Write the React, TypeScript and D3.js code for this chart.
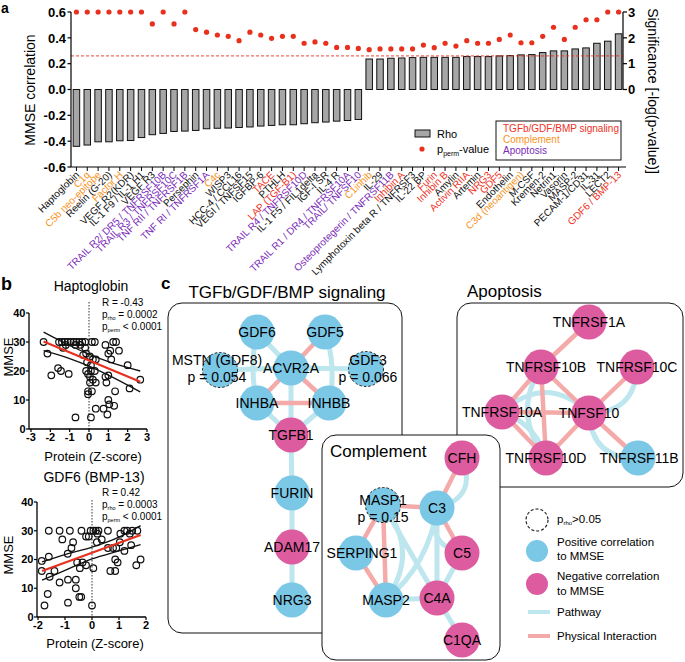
import React from "react";
import * as d3 from "d3";

const FONT = "'Liberation Sans', Arial, Helvetica, sans-serif";

// ---------------- Panel a data ----------------
const categories = [
  "Haptoglobin", "C1q", "C5b neo-epitope", "Reelin (G-20)", "Factor H", "VEGF R2(KDR)", "IL-1 F9 / IL-1 H1", "VEGF R3",
  "TRAIL R2/ DR5 / TNFRSF10B", "TRAIL R3 / TNFRSF10C", "TNF RII / TNFRSF1B", "Persephin", "TNF RI / TNFRSF1A", "C4c",
  "WISP3", "HCC-4 / CCL16", "VEGI / TNFSF15", "IGFBP-6", "TACE", "PTHLH", "LAP (TGF-B1)", "TRAIL R4 / TNFRSF10D",
  "IL-1 F5 / FIL1delta", "IGF-I SR", "IL-4 R", "TRAIL R1 / DR4 / TNFRSF10A", "TRAIL/ TNFSF10", "C1inhib", "IL-29",
  "Osteoprotegerin / TNFRSF11B", "Inhibin A", "Lymphotoxin beta R / TNFRSF3", "IL-22 BP", "Furin", "Inhibin B", "Amylin",
  "Activin RIIA", "Artemin", "NRG3", "GDF5", "Endothelin", "C3d (neoantigen)", "M-CSF", "Kremen-2", "Netrin1", "Vasorin",
  "MASP-2", "PECAM-1/CD31", "IL-31", "LECT2", "GDF6 / BMP-13",
];
// "" = other, T = TGFb/GDF/BMP, C = Complement, A = Apoptosis
const categoryGroup = [
  "", "C", "C", "", "C", "", "", "",
  "A", "A", "A", "", "A", "C",
  "", "", "", "", "T", "", "T", "A",
  "", "", "", "A", "A", "C", "",
  "A", "T", "", "", "T", "T", "",
  "T", "", "T", "T", "", "C", "", "", "", "",
  "", "", "", "", "T",
];
const rhoValues = [
  -0.44, -0.43, -0.405, -0.405, -0.397, -0.395, -0.372, -0.35, -0.34, -0.325, -0.322, -0.317, -0.304, -0.3,
  -0.298, -0.294, -0.29, -0.283, -0.278, -0.273, -0.273, -0.265, -0.257, -0.252, -0.245, -0.24, -0.232,
  0.236, 0.236, 0.242, 0.244, 0.247, 0.249, 0.249, 0.249, 0.249, 0.255, 0.255, 0.255, 0.26, 0.262, 0.268, 0.27,
  0.286, 0.299, 0.299, 0.314, 0.322, 0.358, 0.374, 0.431,
];
const sigValues = [
  3, 3, 3, 3, 3, 3, 3, 2.54, 3, 2.54,
  3, 2.32, 2.22, 2.11, 2.06, 1.89, 2.22, 2.11, 1.98, 2.06,
  2.06, 1.79, 1.84, 1.79, 1.63, 1.63, 1.59, 1.54, 1.57, 1.57,
  1.57, 1.57, 1.72, 1.62, 1.79, 1.68, 1.89, 1.79, 1.79, 1.94,
  2.11, 1.81, 1.81, 2.06, 2.41, 1.94, 2.41, 2.7, 2.7, 3,
  3,
];
const sigThreshold = 1.3;
const leftTicks = [0.6, 0.4, 0.2, 0.0, -0.2, -0.4, -0.6];
const rightTicks = [0, 1, 2, 3];
const groupNames = ["TGFb/GDF/BMP signaling", "Complement", "Apoptosis"];
const groupKeys = ["T", "C", "A"];

const COLORS: Record<string, string> = { "": "#111111", T: "#EE3124", C: "#F7941D", A: "#7A2BB8" };
const RED = "#E8301F";

// ---------------- Panel b data ----------------
const hapPoints: [number, number][] = [
  [-2.35, 30], [-2.15, 26], [-1.95, 18.5], [-1.6, 21], [-1.45, 20], [-1.05, 19],
  [-1.55, 30], [-1.4, 30], [-1.25, 30], [-1.1, 30], [-0.95, 30], [-0.8, 30], [-0.65, 30], [-0.5, 30], [-0.35, 30], [-0.2, 30], [0.15, 30], [0.3, 30],
  [-1.35, 28], [-1.2, 29], [-0.7, 29], [-0.45, 29], [-0.2, 28],
  [-0.15, 26], [-0.3, 25.5], [0.05, 25], [0.2, 24], [0.35, 24], [-0.1, 23], [0.1, 22],
  [-0.15, 20], [0.1, 20], [0.3, 20], [-0.05, 19], [0.05, 18], [0.2, 17], [0.35, 16], [0.05, 16], [-0.05, 13], [0.15, 13], [-0.05, 12], [0.35, 7], [-0.7, 4], [0.1, 4],
  [0.85, 29], [1.0, 26], [1.1, 27], [1.25, 30], [1.4, 30], [1.55, 27], [1.15, 24], [0.85, 18], [1.0, 18.5], [0.9, 16], [1.0, 10], [1.05, 8.5], [1.3, 8], [0.75, 7], [0.95, 5], [1.35, 13], [2.0, 22], [2.1, 14], [2.65, 17],
];
const hapFitX = [-2.35, 2.65];
const hapFitY = [30.2, 16.3];
const hapCiX = [-2.35, -1, 0, 1, 2.65];
const hapCiUpper = [33.4, 28.8, 25.8, 23.2, 20.0];
const hapCiLower = [27.0, 24.3, 21.7, 18.6, 12.8];
const hapXTicks = [-3, -2, -1, 0, 1, 2, 3];

const gdfPoints: [number, number][] = [
  [-1.86, 19.5], [-1.86, 16], [-1.6, 21], [-1.6, 30], [-1.2, 30], [-1.1, 27], [-1.76, 4], [-1.64, 8], [-1.57, 14], [-1.39, 16], [-1.2, 12],
  [-0.9, 22], [-0.76, 24], [-0.7, 26], [-0.82, 30], [-0.89, 5], [-0.89, 13], [-0.6, 13], [-0.6, 10], [-0.47, 7], [-0.4, 7], [-0.55, 19],
  [-0.45, 17], [-0.35, 19], [-0.22, 18], [-0.39, 30], [-0.22, 28], [-0.12, 28], [-0.05, 30], [0.05, 30], [0.14, 30], [0.24, 30], [0.2, 29],
  [0, 4], [0.05, 17], [0.18, 26], [0.36, 27], [0.59, 30], [0.59, 24], [0.78, 24], [0.9, 24], [0.68, 16], [0.86, 16], [0.86, 20], [0.95, 19],
  [1.03, 26], [1.2, 23], [1.2, 30], [1.3, 30], [1.49, 30], [1.68, 30], [1.4, 29], [1.45, 25], [1.64, 18], [1.8, 20], [1.05, 29],
];
const gdfFitX = [-1.85, 1.8];
const gdfFitY = [16.0, 28.5];
const gdfCiX = [-1.85, -1, 0, 1, 1.8];
const gdfCiUpper = [19.2, 21.7, 24.3, 27.8, 31.8];
const gdfCiLower = [12.8, 16.2, 20.2, 23.0, 25.2];
const gdfXTicks = [-2, -1, 0, 1, 2];
const mmseTicks = [0, 10, 20, 30, 40];

// ---------------- Panel c data ----------------
const nodeIds = [
  "GDF6", "GDF5", "MSTN", "ACVR2A", "GDF3", "INHBA", "INHBB", "TGFB1", "FURIN", "ADAM17", "NRG3",
  "TNFRSF1A", "TNFRSF10B", "TNFRSF10C", "TNFRSF10A", "TNFSF10", "TNFRSF10D", "TNFRSF11B",
  "CFH", "C3", "MASP1", "C5", "SERPING1", "MASP2", "C4A", "C1QA",
];
const nodeCorrelation = [
  "+", "+", "+", "+", "+", "+", "+", "-", "+", "-", "+",
  "-", "-", "-", "-", "-", "-", "+",
  "-", "+", "+", "-", "+", "+", "-", "-",
];
const nodeNotSignificant = ["MSTN", "GDF3", "MASP1"];
const nodeLabelText: Record<string, string[]> = {
  MSTN: ["MSTN (GDF8)", "p = 0.054"],
  GDF3: ["GDF3", "p = 0.066"],
  MASP1: ["MASP1", "p = 0.15"],
};
// [source, target, type (P = pathway, I = physical interaction), bend]
const tgfEdges: [string, string, string, number][] = [
  ["GDF6", "ACVR2A", "P", 0], ["GDF5", "INHBB", "P", -5], ["ACVR2A", "GDF3", "P", 0], ["MSTN", "ACVR2A", "P", 0],
  ["GDF6", "INHBA", "P", 4], ["ACVR2A", "TGFB1", "P", 0], ["INHBA", "TGFB1", "P", 0], ["INHBB", "TGFB1", "P", 0],
  ["TGFB1", "FURIN", "P", 0], ["FURIN", "ADAM17", "P", 0], ["ADAM17", "NRG3", "P", 0],
  ["GDF5", "ACVR2A", "I", 0], ["ACVR2A", "INHBA", "I", 0], ["ACVR2A", "INHBB", "I", 0], ["INHBA", "INHBB", "I", 0],
];
const apoEdges: [string, string, string, number][] = [
  ["TNFRSF10C", "TNFSF10", "P", -16], ["TNFRSF10A", "TNFSF10", "P", -20], ["TNFSF10", "TNFRSF11B", "P", 16],
  ["TNFRSF10B", "TNFRSF10D", "P", 16], ["TNFRSF10A", "TNFRSF10D", "P", -8],
  ["TNFRSF1A", "TNFRSF10B", "I", 0], ["TNFRSF10B", "TNFRSF10A", "I", 0], ["TNFRSF10B", "TNFSF10", "I", 0],
  ["TNFRSF10B", "TNFRSF10D", "I", 0], ["TNFRSF10C", "TNFSF10", "I", 0], ["TNFRSF10A", "TNFSF10", "I", 0],
  ["TNFRSF10A", "TNFRSF10D", "I", 0], ["TNFSF10", "TNFRSF10D", "I", 0], ["TNFSF10", "TNFRSF11B", "I", 0],
];
const compEdges: [string, string, string, number][] = [
  ["MASP1", "C4A", "P", 0], ["MASP1", "MASP2", "P", -18], ["MASP2", "C4A", "P", 0], ["CFH", "C3", "P", -16],
  ["C3", "C4A", "P", 0], ["C3", "C5", "P", 14], ["C5", "C4A", "P", 0], ["C4A", "C1QA", "P", 0], ["MASP2", "C3", "P", 10],
  ["MASP1", "C3", "I", 0], ["MASP1", "SERPING1", "I", 0], ["MASP1", "MASP2", "I", 0], ["SERPING1", "MASP2", "I", 0],
  ["C3", "CFH", "I", 0], ["C3", "C5", "I", 0],
];

// layout of the network (pixel positions of the drawn nodes)
const nodeLayout: Record<string, [number, number]> = {
  GDF6: [257, 332], GDF5: [325, 332], MSTN: [220, 370], ACVR2A: [291, 368], GDF3: [366, 369],
  INHBA: [257, 403], INHBB: [329, 403], TGFB1: [291, 435], FURIN: [292, 493], ADAM17: [292, 547], NRG3: [292, 600],
  TNFRSF1A: [589, 322], TNFRSF10B: [541, 367], TNFRSF10C: [637, 367], TNFRSF10A: [502, 412], TNFSF10: [589, 413],
  TNFRSF10D: [546, 458], TNFRSF11B: [638, 458],
  CFH: [462, 458], C3: [437, 508], MASP1: [383, 505], C5: [462, 553], SERPING1: [356, 553], MASP2: [386, 600],
  C4A: [437, 598], C1QA: [462, 640],
};
const labelLayout: Record<string, [number, number][]> = {
  MSTN: [[217, 360], [217, 377]],
  GDF3: [[368, 360], [368, 377]],
  MASP1: [[383, 500], [383, 517]],
  SERPING1: [[362, 553]],
  TNFRSF10B: [[546, 367]],
  TNFRSF11B: [[639, 458]],
};

const BLUE = "#7BC7E6";
const PINK = "#DD5C9F";
const EDGE_BLUE = "#BDE6EE";
const EDGE_PINK = "#F4AAA9";

function PanelA() {
  const x = d3.scaleBand<string>().domain(categories).range([71, 624]).paddingInner(0.4).paddingOuter(0.2);
  const yL = d3.scaleLinear().domain([-0.6, 0.6]).range([167, 12]);
  const yR = d3.scaleLinear().domain([0, 3]).range([yL(0), 12]);
  const bw = x.bandwidth();
  const cx = (c: string) => (x(c) as number) + bw / 2;
  const y0 = yL(0);
  return (
    <g>
      <text x={1} y={13} fontSize={14} fontWeight="bold">a</text>
      {categories.map((c, i) => {
        const v = rhoValues[i];
        const y1 = yL(v);
        return (
          <rect key={c} x={x(c)} y={Math.min(y0, y1)} width={bw} height={Math.abs(y1 - y0)}
            fill="#A6A6A6" stroke="#111" strokeWidth={1} />
        );
      })}
      <line x1={71} x2={623} y1={yR(sigThreshold)} y2={yR(sigThreshold)} stroke={RED} strokeWidth={0.9} strokeDasharray="3,2" />
      {categories.map((c, i) => (
        <circle key={"d" + c} cx={cx(c)} cy={yR(sigValues[i])} r={2.6} fill={RED} />
      ))}
      {/* left axis */}
      <line x1={71} x2={71} y1={12} y2={167} stroke="#000" strokeWidth={1.2} />
      {leftTicks.map((t) => (
        <g key={"lt" + t}>
          <line x1={67.5} x2={71} y1={yL(t)} y2={yL(t)} stroke="#000" strokeWidth={1.2} />
          <text x={66} y={yL(t)} dy="0.36em" textAnchor="end" fontSize={13} fontWeight="bold">{t.toFixed(1)}</text>
        </g>
      ))}
      <text transform={`translate(35,90) rotate(-90)`} textAnchor="middle" fontSize={14}>MMSE correlation</text>
      {/* bottom axis */}
      <line x1={71} x2={626} y1={167} y2={167} stroke="#000" strokeWidth={1.2} />
      {categories.map((c, i) => (
        <g key={"xt" + c}>
          <line x1={cx(c)} x2={cx(c)} y1={167} y2={171} stroke="#000" strokeWidth={1} />
          <text transform={`translate(${cx(c) + 1},173) rotate(-45)`} dy="0.35em" textAnchor="end" fontSize={10}
            fill={COLORS[categoryGroup[i]]}>{c}</text>
        </g>
      ))}
      {/* right axis */}
      <line x1={623} x2={623} y1={12} y2={y0} stroke="#000" strokeWidth={1.2} />
      {rightTicks.map((t) => (
        <g key={"rt" + t}>
          <line x1={623} x2={627} y1={yR(t)} y2={yR(t)} stroke="#000" strokeWidth={1.2} />
          <text x={628} y={yR(t)} dy="0.36em" fontSize={13} fontWeight="bold">{t}</text>
        </g>
      ))}
      <text transform={`translate(648,91) rotate(90)`} textAnchor="middle" fontSize={14}>Significance [-log(p-value)]</text>
      {/* legend */}
      <rect x={415} y={130} width={15} height={7} fill="#A6A6A6" stroke="#111" strokeWidth={1} />
      <text x={437} y={138} fontSize={11}>Rho</text>
      <circle cx={422} cy={149} r={2.6} fill={RED} />
      <text x={437} y={153} fontSize={11}>
        <tspan>p</tspan>
        <tspan fontSize={7} dy={2.5}>perm</tspan>
        <tspan dy={-2.5}>-value</tspan>
      </text>
      <rect x={496} y={121} width={125} height={39} fill="#fff" stroke="#111" strokeWidth={1} />
      {groupNames.map((g, i) => (
        <text key={g} x={503} y={132 + i * 11} fontSize={10} fill={COLORS[groupKeys[i]]}>{g}</text>
      ))}
    </g>
  );
}

type ScatterProps = {
  title: string;
  stats: [string, string, string];
  points: [number, number][];
  xDomain: [number, number];
  xRange: [number, number];
  yRange: [number, number];
  axisX: number;
  xTicks: number[];
  fitX: number[];
  fitY: number[];
  ciX: number[];
  ciUp: number[];
  ciLo: number[];
  titleY: number;
  statY: number;
  xLabelX: number;
  xLabelY: number;
  yLabelY: number;
  zeroTop: number;
};

function Scatter(p: ScatterProps) {
  const x = d3.scaleLinear().domain(p.xDomain).range(p.xRange);
  const y = d3.scaleLinear().domain([0, 40]).range(p.yRange);
  const line = d3.line<[number, number]>().x((d) => x(d[0])).y((d) => y(d[1])).curve(d3.curveMonotoneX);
  const up = p.ciX.map((v, i) => [v, p.ciUp[i]] as [number, number]);
  const lo = p.ciX.map((v, i) => [v, p.ciLo[i]] as [number, number]);
  const fit = p.fitX.map((v, i) => [v, p.fitY[i]] as [number, number]);
  const yb = p.yRange[0];
  const xEnd = p.xRange[1];
  return (
    <g>
      <text x={(p.xRange[0] + p.xRange[1]) / 2 + 2} y={p.titleY} textAnchor="middle" fontSize={14}>{p.title}</text>
      <text x={102} y={p.statY} fontSize={10}>{p.stats[0]}</text>
      <text x={102} y={p.statY + 12} fontSize={10}>
        <tspan>p</tspan><tspan fontSize={5.5} dy={2}>rho</tspan><tspan dy={-2}>{" " + p.stats[1]}</tspan>
      </text>
      <text x={102} y={p.statY + 24} fontSize={10}>
        <tspan>p</tspan><tspan fontSize={5.5} dy={2}>perm</tspan><tspan dy={-2}>{" " + p.stats[2]}</tspan>
      </text>
      <line x1={x(0)} x2={x(0)} y1={p.zeroTop} y2={yb} stroke="#333" strokeWidth={1} strokeDasharray="1.5,1.5" />
      {p.points.map((d, i) => (
        <circle key={i} cx={x(d[0])} cy={y(d[1])} r={3.3} fill="none" stroke="#111" strokeWidth={1.2} />
      ))}
      <path d={line(up) || ""} fill="none" stroke="#111" strokeWidth={1.3} />
      <path d={line(lo) || ""} fill="none" stroke="#111" strokeWidth={1.3} />
      <path d={line(fit) || ""} fill="none" stroke={RED} strokeWidth={2.2} />
      <line x1={p.axisX} x2={p.axisX} y1={y(40)} y2={yb} stroke="#000" strokeWidth={1.3} />
      <line x1={p.axisX} x2={xEnd} y1={yb} y2={yb} stroke="#000" strokeWidth={1.3} />
      {mmseTicks.map((t) => (
        <g key={"y" + t}>
          <line x1={p.axisX - 3} x2={p.axisX} y1={y(t)} y2={y(t)} stroke="#000" strokeWidth={1.2} />
          <text x={p.axisX - 3.5} y={y(t)} dy="0.36em" textAnchor="end" fontSize={11} fontWeight="bold">{t}</text>
        </g>
      ))}
      {p.xTicks.map((t) => (
        <g key={"x" + t}>
          <line x1={x(t)} x2={x(t)} y1={yb} y2={yb + 3} stroke="#000" strokeWidth={1.2} />
          <text x={x(t)} y={yb + 12} textAnchor="middle" fontSize={11} fontWeight="bold">{t}</text>
        </g>
      ))}
      <text transform={`translate(13,${p.yLabelY}) rotate(-90)`} textAnchor="middle" fontSize={13}>MMSE</text>
      <text x={p.xLabelX} y={p.xLabelY} textAnchor="middle" fontSize={13}>Protein (Z-score)</text>
    </g>
  );
}

function edgePath(a: [number, number], b: [number, number], bend: number) {
  const path = d3.path();
  path.moveTo(a[0], a[1]);
  if (!bend) {
    path.lineTo(b[0], b[1]);
  } else {
    const dx = b[0] - a[0];
    const dy = b[1] - a[1];
    const len = Math.hypot(dx, dy);
    const nx = -dy / len;
    const ny = dx / len;
    path.quadraticCurveTo((a[0] + b[0]) / 2 + nx * bend * 2, (a[1] + b[1]) / 2 + ny * bend * 2, b[0], b[1]);
  }
  return path.toString();
}

function Edges({ edges }: { edges: [string, string, string, number][] }) {
  return (
    <g>
      {edges.map((e, i) => (
        <path key={i} d={edgePath(nodeLayout[e[0]], nodeLayout[e[1]], e[3])} fill="none"
          stroke={e[2] === "P" ? EDGE_BLUE : EDGE_PINK} strokeWidth={e[2] === "P" ? 5 : 4.5} strokeLinecap="round" />
      ))}
    </g>
  );
}

function Nodes({ ids }: { ids: string[] }) {
  return (
    <g>
      {ids.map((id) => {
        const idx = nodeIds.indexOf(id);
        const [nx, ny] = nodeLayout[id];
        const dashed = nodeNotSignificant.includes(id);
        return (
          <circle key={id} cx={nx} cy={ny} r={17.5} fill={nodeCorrelation[idx] === "+" ? BLUE : PINK}
            stroke={dashed ? "#222" : "none"} strokeWidth={1} strokeDasharray={dashed ? "2.5,2" : undefined} />
        );
      })}
      {ids.map((id) => {
        const [nx, ny] = nodeLayout[id];
        const lines = nodeLabelText[id] || [id];
        const pos = labelLayout[id] || [[nx, ny]];
        return lines.map((t, k) => (
          <text key={id + k} x={pos[k][0]} y={pos[k][1]} dy="0.36em" textAnchor="middle" fontSize={14} fill="#000">{t}</text>
        ));
      })}
    </g>
  );
}

const tgfIds = nodeIds.slice(0, 11);
const apoIds = nodeIds.slice(11, 18);
const compIds = nodeIds.slice(18);

function Network() {
  return (
    <g>
      <text x={161} y={289} fontSize={17} fontWeight="bold">c</text>
      <text x={287} y={298} textAnchor="middle" fontSize={17}>TGFb/GDF/BMP signaling</text>
      <rect x={168} y={303} width={234} height={330} rx={14} fill="#fff" stroke="#111" strokeWidth={1} />
      <text x={467} y={297} fontSize={17}>Apoptosis</text>
      <rect x={457} y={303} width={226} height={184} rx={14} fill="#fff" stroke="#111" strokeWidth={1} />
      <Edges edges={tgfEdges} />
      <Nodes ids={tgfIds} />
      <Edges edges={apoEdges} />
      <Nodes ids={apoIds} />
      <rect x={322} y={435} width={178} height={225} rx={14} fill="#fff" stroke="#111" strokeWidth={1} />
      <text x={330} y={457} fontSize={17}>Complement</text>
      <Edges edges={compEdges} />
      <Nodes ids={compIds} />
      {/* legend */}
      <circle cx={537} cy={520} r={11} fill="#fff" stroke="#222" strokeWidth={1.2} strokeDasharray="3,2" />
      <text x={557} y={523} fontSize={11.5}>
        <tspan>p</tspan><tspan fontSize={6} dy={2}>rho</tspan><tspan dy={-2}>&gt;0.05</tspan>
      </text>
      <circle cx={537} cy={551} r={11} fill={BLUE} />
      <text x={557} y={546} fontSize={11.5}>Positive correlation</text>
      <text x={557} y={560} fontSize={11.5}>to MMSE</text>
      <circle cx={537} cy={584} r={11} fill={PINK} />
      <text x={557} y={580} fontSize={11.5}>Negative correlation</text>
      <text x={557} y={595} fontSize={11.5}>to MMSE</text>
      <line x1={528} x2={550} y1={612} y2={612} stroke={EDGE_BLUE} strokeWidth={4} />
      <text x={557} y={616} fontSize={11.5}>Pathway</text>
      <line x1={528} x2={550} y1={636} y2={636} stroke={EDGE_PINK} strokeWidth={4} />
      <text x={557} y={640} fontSize={11.5}>Physical Interaction</text>
    </g>
  );
}

export default function App() {
  return (
    <svg width={685} height={662} style={{ position: "absolute", left: 0, top: 0, fontFamily: FONT }}>
      <rect width={685} height={662} fill="#fff" />
      <PanelA />
      <text x={1} y={290} fontSize={18} fontWeight="bold">b</text>
      <Scatter
        title="Haptoglobin" stats={["R = -0.43", "= 0.0002", "< 0.0001"]} points={hapPoints}
        xDomain={[-3, 3]} xRange={[31, 147]} yRange={[429, 313]} axisX={29} xTicks={hapXTicks}
        fitX={hapFitX} fitY={hapFitY} ciX={hapCiX} ciUp={hapCiUpper} ciLo={hapCiLower}
        titleY={291} statY={306} xLabelX={93} xLabelY={461} yLabelY={357} zeroTop={302}
      />
      <Scatter
        title="GDF6 (BMP-13)" stats={["R = 0.42", "= 0.0003", "< 0.0001"]} points={gdfPoints}
        xDomain={[-2, 2]} xRange={[38, 146]} yRange={[617, 502]} axisX={37} xTicks={gdfXTicks}
        fitX={gdfFitX} fitY={gdfFitY} ciX={gdfCiX} ciUp={gdfCiUpper} ciLo={gdfCiLower}
        titleY={482} statY={496} xLabelX={95} xLabelY={648} yLabelY={555} zeroTop={500}
      />
      <Network />
    </svg>
  );
}
